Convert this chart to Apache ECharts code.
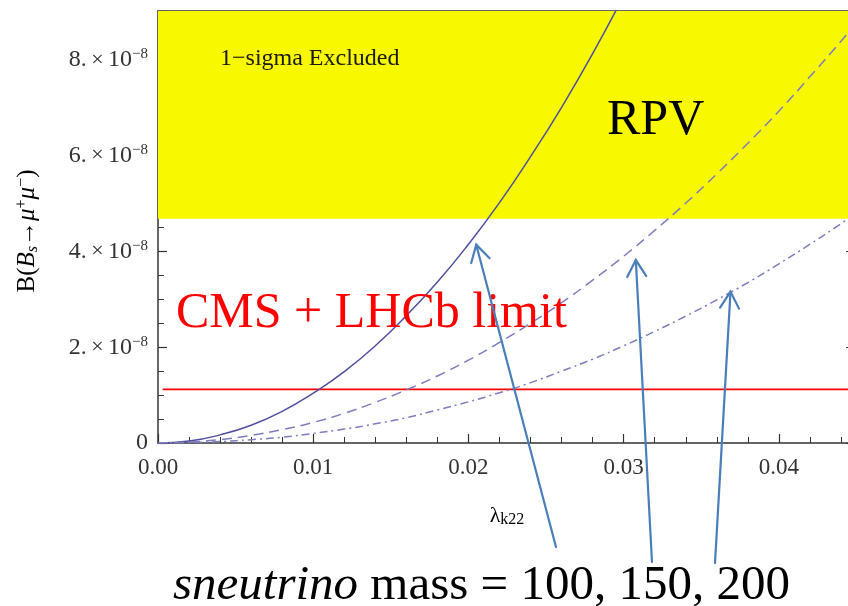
<!DOCTYPE html>
<html>
<head>
<meta charset="utf-8">
<script src="https://cdn.jsdelivr.net/npm/echarts@6/dist/echarts.min.js"></script>
<style>
  html, body { margin: 0; padding: 0; background: #fff; }
  #chart { width: 848px; height: 606px; }
</style>
</head>
<body>
<div id="chart"></div>
<script>
// Coupling lambda_k22 (x) and branching ratio B(Bs -> mu+ mu-) in units of 1e-8 (y)
const lambda = [0, 0.002, 0.004, 0.006, 0.008, 0.010, 0.012, 0.014, 0.016, 0.018,
                0.020, 0.022, 0.024, 0.026, 0.028, 0.030, 0.032, 0.034, 0.036, 0.038,
                0.040, 0.042, 0.044, 0.0449];
// sneutrino mass 100 GeV (solid)
const bMass100 = [0, 0.04, 0.17, 0.37, 0.66, 1.04, 1.49, 2.03, 2.66, 3.36,
                  4.15, 5.02, 5.98, 7.01, 8.13, 9.34, null, null, null, null,
                  null, null, null, null];
// sneutrino mass 150 GeV (dashed)
const bMass150 = [0, 0.02, 0.07, 0.16, 0.28, 0.43, 0.62, 0.85, 1.11, 1.40,
                  1.73, 2.10, 2.50, 2.93, 3.40, 3.90, 4.44, 5.01, 5.62, 6.26,
                  6.93, 7.65, 8.39, 8.74];
// sneutrino mass 200 GeV (dot-dashed)
const bMass200 = [0, 0.01, 0.03, 0.07, 0.12, 0.20, 0.29, 0.40, 0.53, 0.69,
                  0.86, 1.05, 1.26, 1.50, 1.75, 2.03, 2.33, 2.65, 2.99, 3.35,
                  3.74, 4.15, 4.58, 4.78];
// experimental limits (units of 1e-8)
const oneSigmaBound = 4.68;
const cmsLhcbLimit = [[0.0003, 1.12], [0.0449, 1.12]];
// axis range and ticks
const xRange = [0, 0.0449];
const yRange = [0, 9.02];
const xTickStep = 0.01;
const yTickStep = 2;
// points on the curves the annotation arrows point at: [lambda, B]
const arrowTips = [[0.0205, 4.14], [0.03078, 3.82], [0.03688, 3.16]];

const SERIF = '"Liberation Serif", "DejaVu Serif", serif';
const FRAME = '#333';
const zip = (xs, ys) => xs.map((x, i) => [x, ys[i]]);

const chart = echarts.init(document.getElementById('chart'), null, { renderer: 'canvas' });

const frameAxis = (extra) => Object.assign({
  type: 'value',
  axisLine: { show: true, onZero: false, lineStyle: { color: FRAME, width: 1.5 } },
  axisTick: { show: true, inside: true, length: 9, lineStyle: { color: FRAME, width: 1.2 } },
  splitLine: { show: false },
  minorSplitLine: { show: false }
}, extra);

const minorX = { show: true, splitNumber: 5, length: 6, lineStyle: { color: FRAME, width: 1 } };
const minorY = { show: true, splitNumber: 4, length: 6, lineStyle: { color: FRAME, width: 1 } };

const option = {
  animation: false,
  backgroundColor: '#fff',
  grid: { left: 158, top: 11, width: 697, height: 432, containLabel: false, outerBoundsMode: 'none' },
  xAxis: [
    frameAxis({
      position: 'bottom', min: xRange[0], max: xRange[1], interval: xTickStep,
      minorTick: minorX,
      axisLabel: {
        show: true, margin: 13, color: '#333', fontFamily: SERIF, fontSize: 23,
        showMaxLabel: false,
        formatter: v => v.toFixed(2)
      }
    }),
    frameAxis({
      position: 'top', min: xRange[0], max: xRange[1], interval: xTickStep,
      minorTick: minorX,
      axisLabel: { show: false }
    })
  ],
  yAxis: [
    frameAxis({
      position: 'left', min: yRange[0], max: yRange[1], interval: yTickStep,
      minorTick: minorY,
      axisLabel: {
        show: true, margin: 10, color: '#333', fontFamily: SERIF, showMaxLabel: false,
        formatter: v => v === 0 ? '{n|0}' : `{n|${v}.}{x|\u2009×\u2009}{n|10}{s|\u22128}`,
        rich: {
          n: { fontFamily: SERIF, fontSize: 24, color: '#333', lineHeight: 26 },
          x: { fontFamily: SERIF, fontSize: 22, color: '#333', lineHeight: 26 },
          s: { fontFamily: SERIF, fontSize: 15, color: '#333', verticalAlign: 'top', lineHeight: 15 }
        }
      }
    }),
    frameAxis({
      position: 'right', min: yRange[0], max: yRange[1], interval: yTickStep,
      minorTick: minorY,
      axisLabel: { show: false }
    })
  ],
  series: [
    {
      // 1-sigma excluded band
      type: 'line', data: [], silent: true,
      markArea: {
        silent: true,
        itemStyle: { color: '#f8f800' },
        data: [[{ yAxis: oneSigmaBound }, { yAxis: yRange[1] }]]
      }
    },
    {
      name: 'CMS + LHCb', type: 'line', data: cmsLhcbLimit, showSymbol: false, z: 3,
      lineStyle: { color: '#ff0000', width: 1.6 }
    },
    {
      name: 'm = 100', type: 'line', data: zip(lambda, bMass100), smooth: true,
      showSymbol: false, connectNulls: false, z: 4,
      lineStyle: { color: '#4f4f9e', width: 1.5 }
    },
    {
      name: 'm = 150', type: 'line', data: zip(lambda, bMass150), smooth: true,
      showSymbol: false, z: 4,
      lineStyle: { color: '#7d7dbf', width: 1.5, type: [10, 6] }
    },
    {
      name: 'm = 200', type: 'line', data: zip(lambda, bMass200), smooth: true,
      showSymbol: false, z: 4,
      lineStyle: { color: '#7d7dbf', width: 1.5, type: [8, 4, 2, 4] }
    }
  ]
};

chart.setOption(option);

// annotation texts and arrows
const ARROW = '#4a7ebb';
const arrowTails = [[556, 547], [652, 562], [715, 563]];
const graphics = [
  {
    type: 'text', x: 220, y: 59, z: 10,
    style: { text: '1\u2212sigma Excluded', font: '24px ' + SERIF, fill: '#1a1a1a',
             textAlign: 'left', textVerticalAlign: 'middle', align: 'left', verticalAlign: 'middle' }
  },
  {
    type: 'text', x: 607, y: 121, z: 10,
    style: { text: 'RPV', font: '50px ' + SERIF, fill: '#000',
             textAlign: 'left', textVerticalAlign: 'middle', align: 'left', verticalAlign: 'middle' }
  },
  {
    type: 'text', x: 176, y: 314, z: 10,
    style: { text: 'CMS + LHCb limit', font: '50px ' + SERIF, fill: '#ff0000',
             textAlign: 'left', textVerticalAlign: 'middle', align: 'left', verticalAlign: 'middle' }
  },
  {
    type: 'text', x: 173, y: 586, z: 10,
    style: {
      text: '{i|sneutrino}{r| mass = 100, 150, 200}',
      textAlign: 'left', textVerticalAlign: 'middle', align: 'left', verticalAlign: 'middle',
      rich: {
        i: { fontFamily: SERIF, fontStyle: 'italic', fontSize: 49, fill: '#000', color: '#000' },
        r: { fontFamily: SERIF, fontSize: 49, fill: '#000', color: '#000' }
      }
    }
  },
  {
    type: 'text', x: 507, y: 516, z: 10,
    style: {
      text: '{l|λ}{s|k22}',
      textAlign: 'center', textVerticalAlign: 'middle', align: 'center', verticalAlign: 'middle',
      rich: {
        l: { fontFamily: SERIF, fontSize: 22, color: '#333', lineHeight: 24 },
        s: { fontFamily: SERIF, fontSize: 16, color: '#333', verticalAlign: 'bottom', lineHeight: 16 }
      }
    }
  },
  {
    type: 'text', x: 27, y: 231, rotation: Math.PI / 2, z: 10,
    style: {
      text: '{r|B(}{i|B}{b|s}{r|→}{i|μ}{p|+}{i|μ}{p|\u2212}{r|)}',
      textAlign: 'center', textVerticalAlign: 'middle', align: 'center', verticalAlign: 'middle',
      rich: {
        r: { fontFamily: SERIF, fontSize: 25, color: '#333', lineHeight: 27 },
        i: { fontFamily: SERIF, fontStyle: 'italic', fontSize: 25, color: '#333', lineHeight: 27 },
        b: { fontFamily: SERIF, fontStyle: 'italic', fontSize: 16, color: '#333', verticalAlign: 'bottom', lineHeight: 16 },
        p: { fontFamily: SERIF, fontSize: 16, color: '#333', verticalAlign: 'top', lineHeight: 16 }
      }
    }
  }
];

arrowTips.forEach((tip, k) => {
  const [tx, ty] = chart.convertToPixel({ xAxisIndex: 0, yAxisIndex: 0 }, tip);
  const [sx, sy] = arrowTails[k];
  const dx = sx - tx, dy = sy - ty, len = Math.hypot(dx, dy);
  const ux = dx / len, uy = dy / len;
  const head = 19, ang = Math.PI / 6;
  const arm = (a) => [tx + head * (ux * Math.cos(a) - uy * Math.sin(a)),
                      ty + head * (ux * Math.sin(a) + uy * Math.cos(a))];
  const [ax, ay] = arm(ang), [bx, by] = arm(-ang);
  const ls = { stroke: ARROW, lineWidth: 2.2, lineCap: 'round' };
  graphics.push({ type: 'line', z: 11, shape: { x1: sx, y1: sy, x2: tx, y2: ty }, style: ls });
  graphics.push({ type: 'polyline', z: 11, shape: { points: [[ax, ay], [tx, ty], [bx, by]] }, style: ls });
});

chart.setOption({ graphic: graphics });
</script>
</body>
</html>
